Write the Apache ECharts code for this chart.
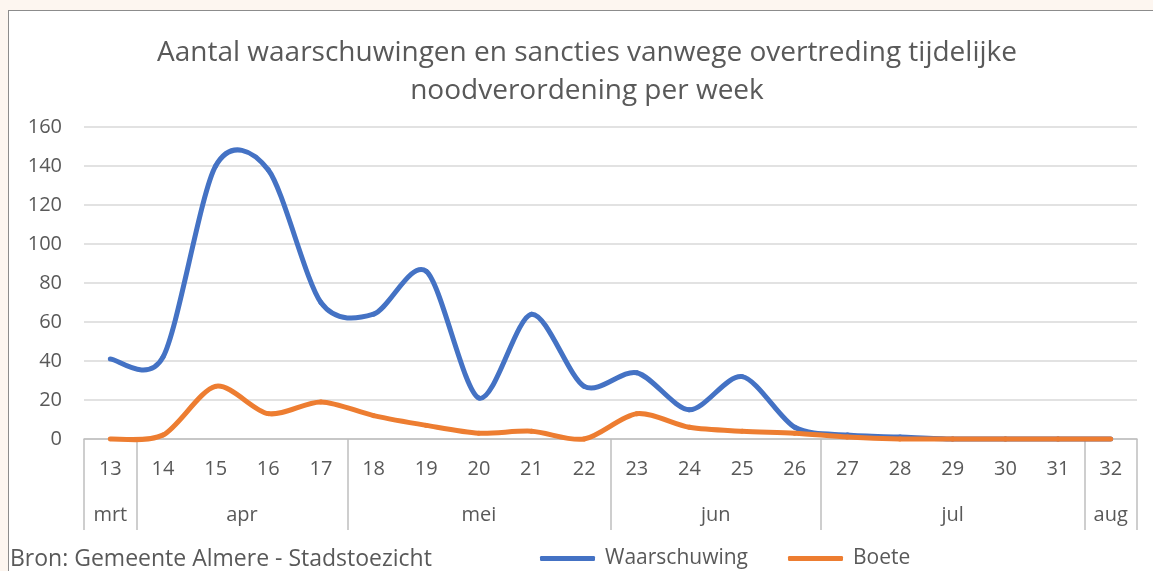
<!DOCTYPE html>
<html>
<head>
<meta charset="utf-8">
<script src="https://cdn.jsdelivr.net/npm/echarts@6/dist/echarts.min.js"></script>
<style>
    html, body { margin: 0; padding: 0; background: #fdf6f0; }
    #frame { position: absolute; left: 8px; top: 10px; width: 1200px; height: 600px; background: #ffffff; border: 1px solid #8c8c8c; }
    #chart { position: absolute; left: 0; top: 0; width: 1153px; height: 571px; }
</style>
</head>
<body>
<div id="frame"></div>
<div id="chart"></div>
<script>
    // Weeks on the x axis, grouped by month
    const weeks = ['13', '14', '15', '16', '17', '18', '19', '20', '21', '22',
        '23', '24', '25', '26', '27', '28', '29', '30', '31', '32'];
    const months = ['mrt', 'apr', 'mei', 'jun', 'jul', 'aug'];
    const weeksPerMonth = [1, 4, 5, 4, 5, 1];

    const waarschuwing = [41, 42, 140, 138, 70, 64, 86, 21, 64, 27, 34, 15, 32, 6, 2, 1, 0, 0, 0, 0];
    const boete = [0, 2, 27, 13, 19, 12, 7, 3, 4, 0, 13, 6, 4, 3, 1, 0, 0, 0, 0, 0];

    const yMin = 0;
    const yMax = 160;
    const yStep = 20;

    // month boundaries and centres in week units
    const boundaries = [0];
    const centres = [];
    weeksPerMonth.forEach((n) => {
        const start = boundaries[boundaries.length - 1];
        centres.push(start + n / 2);
        boundaries.push(start + n);
    });

    const grey = '#595959';
    const font = 'Open Sans';

    // Excel style smoothed line: one bezier segment per point, catmull-rom like control points
    const tension = 0.145;
    const smoothLine = (values, color) => (params, api) => {
        const i = params.dataIndex;
        const last = values.length - 1;
        if (i >= last) {
            return null;
        }
        const pt = (j) => {
            const k = Math.max(0, Math.min(last, j));
            return api.coord([k, values[k]]);
        };
        const p0 = pt(i - 1);
        const p1 = pt(i);
        const p2 = pt(i + 1);
        const p3 = pt(i + 2);
        return {
            type: 'bezierCurve',
            shape: {
                x1: p1[0], y1: p1[1],
                x2: p2[0], y2: p2[1],
                cpx1: p1[0] + (p2[0] - p0[0]) * tension,
                cpy1: p1[1] + (p2[1] - p0[1]) * tension,
                cpx2: p2[0] - (p3[0] - p1[0]) * tension,
                cpy2: p2[1] - (p3[1] - p1[1]) * tension
            },
            style: { stroke: color, fill: null, lineWidth: 5, lineCap: 'round' }
        };
    };

    const myChart = echarts.init(document.getElementById('chart'));

    const option = {
        animation: false,
        textStyle: { fontFamily: font },
        graphic: [
            {
                type: 'text',
                x: 587,
                y: 53,
                style: {
                    text: 'Aantal waarschuwingen en sancties vanwege overtreding tijdelijke',
                    font: '28px "Open Sans"',
                    fill: grey,
                    textAlign: 'center',
                    textVerticalAlign: 'middle'
                }
            },
            {
                type: 'text',
                x: 587,
                y: 91,
                style: {
                    text: 'noodverordening per week',
                    font: '28px "Open Sans"',
                    fill: grey,
                    textAlign: 'center',
                    textVerticalAlign: 'middle'
                }
            },
            {
                type: 'text',
                x: 10,
                y: 559,
                style: {
                    text: 'Bron: Gemeente Almere - Stadstoezicht',
                    font: '23px "Open Sans"',
                    fill: grey,
                    textVerticalAlign: 'middle'
                }
            }
        ],
        legend: {
            left: 540,
            top: 548,
            padding: 0,
            itemWidth: 55,
            itemHeight: 5,
            itemGap: 40,
            icon: 'roundRect',
            textStyle: { fontSize: 21, color: grey, padding: [0, 0, 0, 5] },
            data: ['Waarschuwing', 'Boete']
        },
        grid: {
            left: 84,
            right: 16,
            top: 127,
            bottom: 132,
            containLabel: false
        },
        xAxis: [
            {
                type: 'category',
                data: weeks,
                boundaryGap: true,
                axisLine: { lineStyle: { color: '#bfbfbf', width: 1.5 } },
                axisTick: { show: false },
                axisLabel: { color: grey, fontSize: 20, margin: 20 }
            },
            {
                type: 'value',
                min: 0,
                max: weeks.length,
                position: 'bottom',
                splitLine: { show: false },
                axisLine: { show: false },
                axisTick: {
                    show: true,
                    length: 91,
                    customValues: boundaries,
                    lineStyle: { color: '#bfbfbf', width: 1.5 }
                },
                axisLabel: {
                    show: true,
                    color: grey,
                    fontSize: 20,
                    margin: 66,
                    customValues: centres,
                    formatter: (value) => months[centres.indexOf(value)]
                }
            }
        ],
        yAxis: {
            type: 'value',
            min: yMin,
            max: yMax,
            interval: yStep,
            axisLine: { show: false },
            axisTick: { show: false },
            axisLabel: { color: grey, fontSize: 20, margin: 22 },
            splitLine: { lineStyle: { color: '#d9d9d9', width: 1.5 } }
        },
        series: [
            {
                name: 'Waarschuwing',
                type: 'custom',
                color: '#4472c4',
                data: waarschuwing.map((v, i) => [i, v]),
                encode: { x: 0, y: 1 },
                renderItem: smoothLine(waarschuwing, '#4472c4')
            },
            {
                name: 'Boete',
                type: 'custom',
                color: '#ed7d31',
                data: boete.map((v, i) => [i, v]),
                encode: { x: 0, y: 1 },
                renderItem: smoothLine(boete, '#ed7d31')
            }
        ]
    };
    myChart.setOption(option);
</script>
</body>
</html>
